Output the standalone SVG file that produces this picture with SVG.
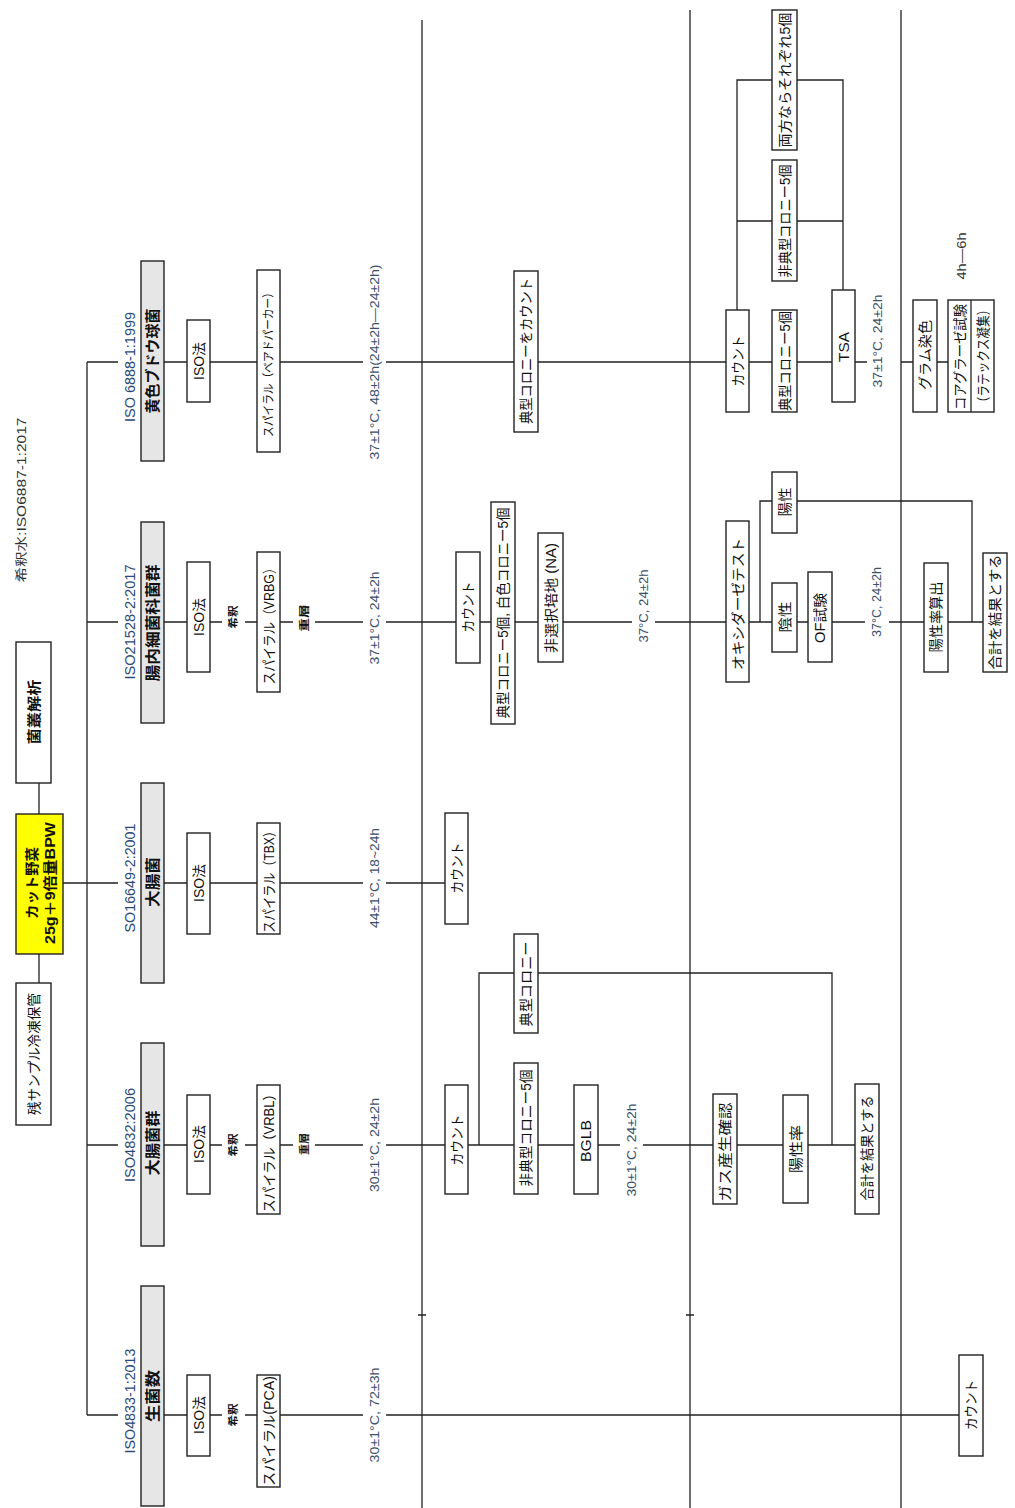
<svg xmlns="http://www.w3.org/2000/svg" width="1015" height="1508" viewBox="0 0 1015 1508">
<style>
.bg{fill:#fff}
.n{fill:#fff;stroke:#222;stroke-width:1.4}
.g{fill:#e6e6e6;stroke:#222;stroke-width:1.4}
.y{fill:#ffff00;stroke:#222;stroke-width:1.4}
.c{fill:none;stroke:#222;stroke-width:1.3}
.t{font-family:"Liberation Sans","Noto Sans CJK JP",sans-serif;text-anchor:middle;dominant-baseline:central;fill:#111;font-size:14px}
.hd{font-size:15px;font-weight:bold}
.rt{font-size:14px;font-weight:bold}
.iso{font-size:14px;fill:#2a4a7a}
.tmp{font-size:12px;fill:#3a4f6a}
.sm{font-size:10px;font-weight:bold}
.nt{font-size:12px;fill:#333}
</style>
<rect class="bg" x="0" y="0" width="1015" height="1508"/>

<g id="connectors">
<path class="c" d="M39 783V814M39 954V983M63 883H87M87 362V1415"/>
<path class="c" d="M422 20V1508M690 10V1508M901 10V1508M418 1315H426M686 1315H694"/>
<path class="c" d="M87 362H118M164 362H187M210 362H257M280 362H363M386 362H514M538 362H726M749 362H772M797 362H832M855 362H867M901 362H913M937 362H948"/>
<path class="c" d="M737 310V80H772M797 80H843V290M737 221H772M797 221H843"/>
<path class="c" d="M87 622H118M164 622H187M210 622H222M245 622H257M280 622H293M315 622H363M386 622H456M480 622H491M515 622H538M563 622H632M655 622H726M749 622H772M797 622H808M832 622H865M889 622H924M948 622H983"/>
<path class="c" d="M760 622V501H772M797 501H972V622"/>
<path class="c" d="M87 883H118M164 883H187M210 883H257M280 883H363M386 883H445"/>
<path class="c" d="M87 1145H118M164 1145H187M210 1145H222M245 1145H257M280 1145H293M315 1145H363M386 1145H445M468 1145H514M538 1145H574M598 1145H620M643 1145H713M737 1145H783M808 1145H855"/>
<path class="c" d="M479 1145V973H514M538 973H832V1145"/>
<path class="c" d="M87 1415H118M164 1415H187M210 1415H222M245 1415H257M280 1415H363M386 1415H959"/>
</g>

<g id="root"><rect class="y" x="16" y="814" width="47" height="140"/>
<text class="t rt" transform="translate(32,883) rotate(-90)" textLength="72" lengthAdjust="spacingAndGlyphs">カット野菜</text>
<text class="t rt" transform="translate(50,883) rotate(-90)" textLength="122" lengthAdjust="spacingAndGlyphs">25g＋9倍量BPW</text></g>
<g id="flora"><rect class="n" x="16" y="642" width="35" height="141"/>
<text class="t rt" transform="translate(33.5,712) rotate(-90)" textLength="65" lengthAdjust="spacingAndGlyphs">菌叢解析</text></g>
<g id="rest"><rect class="n" x="16" y="983" width="35" height="142"/>
<text class="t" transform="translate(33.5,1054) rotate(-90)" textLength="122" lengthAdjust="spacingAndGlyphs">残サンプル冷凍保管</text></g>
<g id="note"><text class="t nt" transform="translate(22,500) rotate(-90)" textLength="165" lengthAdjust="spacingAndGlyphs">希釈水:ISO6887-1:2017</text></g>

<g id="head5"><text class="t iso" transform="translate(130,367) rotate(-90)" textLength="110" lengthAdjust="spacingAndGlyphs">ISO 6888-1:1999</text>
<rect class="g" x="141" y="261" width="23" height="200"/>
<text class="t hd" transform="translate(152.5,361) rotate(-90)" textLength="105" lengthAdjust="spacingAndGlyphs">黄色ブドウ球菌</text></g>
<g id="head4"><text class="t iso" transform="translate(130,622) rotate(-90)" textLength="115" lengthAdjust="spacingAndGlyphs">ISO21528-2:2017</text>
<rect class="g" x="141" y="522" width="23" height="201"/>
<text class="t hd" transform="translate(152.5,623) rotate(-90)" textLength="117" lengthAdjust="spacingAndGlyphs">腸内細菌科菌群</text></g>
<g id="head3"><text class="t iso" transform="translate(130,878) rotate(-90)" textLength="109" lengthAdjust="spacingAndGlyphs">SO16649-2:2001</text>
<rect class="g" x="141" y="783" width="23" height="200"/>
<text class="t hd" transform="translate(152.5,882) rotate(-90)" textLength="50" lengthAdjust="spacingAndGlyphs">大腸菌</text></g>
<g id="head2"><text class="t iso" transform="translate(130,1135) rotate(-90)" textLength="94" lengthAdjust="spacingAndGlyphs">ISO4832:2006</text>
<rect class="g" x="141" y="1043" width="23" height="203"/>
<text class="t hd" transform="translate(152.5,1143) rotate(-90)" textLength="65" lengthAdjust="spacingAndGlyphs">大腸菌群</text></g>
<g id="head1"><text class="t iso" transform="translate(130,1401) rotate(-90)" textLength="105" lengthAdjust="spacingAndGlyphs">ISO4833-1:2013</text>
<rect class="g" x="141" y="1286" width="23" height="220"/>
<text class="t hd" transform="translate(152.5,1396) rotate(-90)" textLength="52" lengthAdjust="spacingAndGlyphs">生菌数</text></g>

<g id="iso5"><rect class="n" x="187" y="320" width="23" height="82"/><text class="t" transform="translate(198.5,361) rotate(-90)" textLength="38" lengthAdjust="spacingAndGlyphs">ISO法</text></g>
<g id="iso4"><rect class="n" x="187" y="562" width="23" height="110"/><text class="t" transform="translate(198.5,617) rotate(-90)" textLength="38" lengthAdjust="spacingAndGlyphs">ISO法</text></g>
<g id="iso3"><rect class="n" x="187" y="833" width="23" height="101"/><text class="t" transform="translate(198.5,883) rotate(-90)" textLength="38" lengthAdjust="spacingAndGlyphs">ISO法</text></g>
<g id="iso2"><rect class="n" x="187" y="1095" width="23" height="99"/><text class="t" transform="translate(198.5,1144) rotate(-90)" textLength="38" lengthAdjust="spacingAndGlyphs">ISO法</text></g>
<g id="iso1"><rect class="n" x="187" y="1375" width="23" height="81"/><text class="t" transform="translate(198.5,1415) rotate(-90)" textLength="38" lengthAdjust="spacingAndGlyphs">ISO法</text></g>

<g id="dil4"><text class="t sm" transform="translate(233.5,617) rotate(-90)" textLength="23" lengthAdjust="spacingAndGlyphs">希釈</text></g>
<g id="dil2"><text class="t sm" transform="translate(233.5,1145) rotate(-90)" textLength="23" lengthAdjust="spacingAndGlyphs">希釈</text></g>
<g id="dil1"><text class="t sm" transform="translate(233.5,1415) rotate(-90)" textLength="23" lengthAdjust="spacingAndGlyphs">希釈</text></g>

<g id="sp5"><rect class="n" x="257" y="270" width="23" height="182"/><text class="t" style="font-size:12px" transform="translate(268.5,362) rotate(-90)" textLength="150" lengthAdjust="spacingAndGlyphs">スパイラル（ベアドパーカー）</text></g>
<g id="sp4"><rect class="n" x="257" y="552" width="23" height="140"/><text class="t" transform="translate(268.5,623) rotate(-90)" textLength="123" lengthAdjust="spacingAndGlyphs">スパイラル（VRBG）</text></g>
<g id="sp3"><rect class="n" x="257" y="823" width="23" height="111"/><text class="t" transform="translate(268.5,879) rotate(-90)" textLength="108" lengthAdjust="spacingAndGlyphs">スパイラル（TBX）</text></g>
<g id="sp2"><rect class="n" x="257" y="1085" width="23" height="129"/><text class="t" transform="translate(268.5,1150) rotate(-90)" textLength="125" lengthAdjust="spacingAndGlyphs">スパイラル（VRBL）</text></g>
<g id="sp1"><rect class="n" x="257" y="1375" width="23" height="112"/><text class="t" transform="translate(268.5,1431) rotate(-90)" textLength="110" lengthAdjust="spacingAndGlyphs">スパイラル(PCA)</text></g>

<g id="ov4"><text class="t sm" transform="translate(304,618) rotate(-90)" textLength="27" lengthAdjust="spacingAndGlyphs">重層</text></g>
<g id="ov2"><text class="t sm" transform="translate(304,1144) rotate(-90)" textLength="22" lengthAdjust="spacingAndGlyphs">重層</text></g>

<g id="temp5"><text class="t tmp" transform="translate(374.5,362) rotate(-90)" textLength="195" lengthAdjust="spacingAndGlyphs">37±1°C, 48±2h(24±2h—24±2h)</text></g>
<g id="temp4"><text class="t tmp" transform="translate(374.5,618) rotate(-90)" textLength="93" lengthAdjust="spacingAndGlyphs">37±1°C, 24±2h</text></g>
<g id="temp3"><text class="t tmp" transform="translate(374.5,878) rotate(-90)" textLength="100" lengthAdjust="spacingAndGlyphs">44±1°C, 18~24h</text></g>
<g id="temp2"><text class="t tmp" transform="translate(374.5,1145) rotate(-90)" textLength="94" lengthAdjust="spacingAndGlyphs">30±1°C, 24±2h</text></g>
<g id="temp1"><text class="t tmp" transform="translate(374.5,1415) rotate(-90)" textLength="95" lengthAdjust="spacingAndGlyphs">30±1°C, 72±3h</text></g>

<g id="c5"><rect class="n" x="514" y="271" width="24" height="161"/><text class="t" transform="translate(526,351) rotate(-90)" textLength="146" lengthAdjust="spacingAndGlyphs">典型コロニーをカウント</text></g>
<g id="c4a"><rect class="n" x="456" y="552" width="24" height="111"/><text class="t" transform="translate(468,607) rotate(-90)" textLength="51" lengthAdjust="spacingAndGlyphs">カウント</text></g>
<g id="c4b"><rect class="n" x="491" y="502" width="24" height="222"/><text class="t" transform="translate(503,613) rotate(-90)" textLength="211" lengthAdjust="spacingAndGlyphs">典型コロニー5個, 白色コロニー5個</text></g>
<g id="c4c"><rect class="n" x="538" y="533" width="25" height="129"/><text class="t" transform="translate(550.5,598) rotate(-90)" textLength="110" lengthAdjust="spacingAndGlyphs">非選択培地 (NA)</text></g>
<g id="temp4b"><text class="t tmp" transform="translate(643.5,606) rotate(-90)" textLength="73" lengthAdjust="spacingAndGlyphs">37°C, 24±2h</text></g>
<g id="c3"><rect class="n" x="445" y="813" width="23" height="111"/><text class="t" transform="translate(456.5,868) rotate(-90)" textLength="51" lengthAdjust="spacingAndGlyphs">カウント</text></g>
<g id="c2a"><rect class="n" x="445" y="1085" width="23" height="109"/><text class="t" transform="translate(456.5,1140) rotate(-90)" textLength="51" lengthAdjust="spacingAndGlyphs">カウント</text></g>
<g id="c2b"><rect class="n" x="514" y="934" width="24" height="99"/><text class="t" transform="translate(526,984) rotate(-90)" textLength="85" lengthAdjust="spacingAndGlyphs">典型コロニー</text></g>
<g id="c2c"><rect class="n" x="514" y="1063" width="24" height="131"/><text class="t" transform="translate(526,1128) rotate(-90)" textLength="117" lengthAdjust="spacingAndGlyphs">非典型コロニー5個</text></g>
<g id="c2d"><rect class="n" x="574" y="1085" width="24" height="109"/><text class="t" transform="translate(586,1141) rotate(-90)" textLength="42" lengthAdjust="spacingAndGlyphs">BGLB</text></g>
<g id="temp2b"><text class="t tmp" transform="translate(631.5,1150) rotate(-90)" textLength="93" lengthAdjust="spacingAndGlyphs">30±1°C, 24±2h</text></g>

<g id="d5a"><rect class="n" x="726" y="310" width="23" height="102"/><text class="t" transform="translate(737.5,361) rotate(-90)" textLength="51" lengthAdjust="spacingAndGlyphs">カウント</text></g>
<g id="d5b"><rect class="n" x="772" y="10" width="25" height="140"/><text class="t" transform="translate(784.5,80) rotate(-90)" textLength="135" lengthAdjust="spacingAndGlyphs">両方ならそれぞれ5個</text></g>
<g id="d5c"><rect class="n" x="772" y="160" width="25" height="121"/><text class="t" transform="translate(784.5,221) rotate(-90)" textLength="113" lengthAdjust="spacingAndGlyphs">非典型コロニー5個</text></g>
<g id="d5d"><rect class="n" x="772" y="310" width="25" height="102"/><text class="t" transform="translate(784.5,361) rotate(-90)" textLength="100" lengthAdjust="spacingAndGlyphs">典型コロニー5個</text></g>
<g id="d5e"><rect class="n" x="832" y="290" width="23" height="112"/><text class="t" transform="translate(843.5,347) rotate(-90)" textLength="30" lengthAdjust="spacingAndGlyphs">TSA</text></g>
<g id="temp5c"><text class="t tmp" transform="translate(878,341) rotate(-90)" textLength="93" lengthAdjust="spacingAndGlyphs">37±1°C, 24±2h</text></g>
<g id="d5f"><rect class="n" x="913" y="300" width="24" height="112"/><text class="t" transform="translate(925,355) rotate(-90)" textLength="70" lengthAdjust="spacingAndGlyphs">グラム染色</text></g>
<g id="d5g"><rect class="n" x="948" y="300" width="46" height="112"/><line class="c" x1="971" y1="300" x2="971" y2="412"/>
<text class="t" transform="translate(959.5,357) rotate(-90)" textLength="106" lengthAdjust="spacingAndGlyphs">コアグラーゼ試験</text>
<text class="t" transform="translate(982.5,356) rotate(-90)" textLength="105" lengthAdjust="spacingAndGlyphs">（ラテックス凝集）</text></g>
<g id="time5"><text class="t nt" transform="translate(962,256) rotate(-90)" textLength="47" lengthAdjust="spacingAndGlyphs">4h—6h</text></g>

<g id="d4a"><rect class="n" x="726" y="521" width="23" height="161"/><text class="t" transform="translate(737.5,604) rotate(-90)" textLength="132" lengthAdjust="spacingAndGlyphs">オキシダーゼテスト</text></g>
<g id="d4b"><rect class="n" x="772" y="472" width="25" height="61"/><text class="t" transform="translate(784.5,502) rotate(-90)" textLength="29" lengthAdjust="spacingAndGlyphs">陽性</text></g>
<g id="d4c"><rect class="n" x="772" y="583" width="25" height="69"/><text class="t" transform="translate(784.5,617) rotate(-90)" textLength="31" lengthAdjust="spacingAndGlyphs">陰性</text></g>
<g id="d4d"><rect class="n" x="808" y="572" width="24" height="90"/><text class="t" transform="translate(820,618) rotate(-90)" textLength="50" lengthAdjust="spacingAndGlyphs">OF試験</text></g>
<g id="temp4c"><text class="t tmp" transform="translate(877,602) rotate(-90)" textLength="70" lengthAdjust="spacingAndGlyphs">37°C, 24±2h</text></g>
<g id="d4e"><rect class="n" x="924" y="563" width="24" height="109"/><text class="t" transform="translate(936,617) rotate(-90)" textLength="71" lengthAdjust="spacingAndGlyphs">陽性率算出</text></g>
<g id="d4f"><rect class="n" x="983" y="553" width="24" height="119"/><text class="t" transform="translate(995,612) rotate(-90)" textLength="115" lengthAdjust="spacingAndGlyphs">合計を結果とする</text></g>

<g id="d2a"><rect class="n" x="713" y="1094" width="24" height="110"/><text class="t" transform="translate(725,1152) rotate(-90)" textLength="99" lengthAdjust="spacingAndGlyphs">ガス産生確認</text></g>
<g id="d2b"><rect class="n" x="783" y="1095" width="25" height="108"/><text class="t" transform="translate(795.5,1149) rotate(-90)" textLength="48" lengthAdjust="spacingAndGlyphs">陽性率</text></g>
<g id="d2c"><rect class="n" x="855" y="1084" width="24" height="130"/><text class="t" transform="translate(867,1148) rotate(-90)" textLength="105" lengthAdjust="spacingAndGlyphs">合計を結果とする</text></g>

<g id="d1"><rect class="n" x="959" y="1355" width="24" height="101"/><text class="t" transform="translate(971,1405) rotate(-90)" textLength="50" lengthAdjust="spacingAndGlyphs">カウント</text></g>
</svg>
